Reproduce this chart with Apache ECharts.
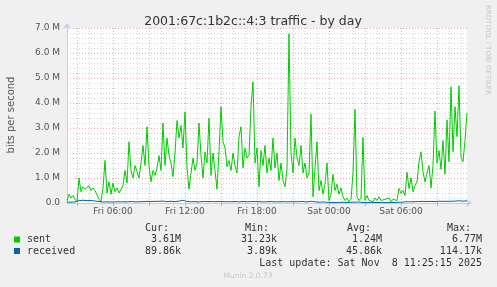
<!DOCTYPE html>
<html>
<head>
<meta charset="utf-8">
<script src="https://cdn.jsdelivr.net/npm/echarts@6/dist/echarts.min.js"></script>
<style>html,body{margin:0;padding:0;background:#f0f0f0;}#c{width:497px;height:287px;}</style>
</head>
<body>
<div id="c"></div>
<script>
// ---- data (10-minute samples, Fri 02:10 -> Sat 11:30) ----
const startMinute = 130;   // Fri 02:10
const stepMinutes = 10;
// sent, in Mbit/s
const sentM = [
 0.1,0.35,0.2,0.3,0.15,0.05,1.0,0.45,0.65,0.55,
 0.5,0.7,0.5,0.6,0.5,0.45,0.15,0.05,0.6,1.7,
 0.4,0.85,0.35,0.8,0.45,0.6,0.4,0.55,0.7,1.3,
 0.8,2.45,1.3,1.0,1.5,1.25,1.0,1.6,2.3,1.5,
 3.05,1.5,0.85,1.3,1.1,1.4,1.9,1.3,3.2,1.5,
 2.6,1.9,1.6,1.05,2.0,3.3,2.6,3.1,2.2,3.65,
 1.4,0.55,1.2,1.8,1.3,1.6,3.2,1.9,1.0,2.05,
 1.6,3.4,1.1,2.0,1.3,0.55,2.05,3.85,2.45,2.2,
 1.45,1.7,1.3,2.0,1.5,1.2,2.65,3.05,1.4,2.2,
 1.8,1.9,3.85,4.85,1.6,2.2,0.65,2.1,1.5,2.3,
 1.2,1.8,1.3,2.6,1.4,2.0,0.9,1.6,0.9,0.65,
 1.4,6.77,2.0,1.2,2.6,1.8,1.5,2.3,1.2,1.6,
 1.0,1.2,3.55,0.25,1.4,2.45,0.5,0.9,0.35,0.75,
 1.6,0.1,0.35,1.15,0.5,0.75,0.35,0.6,0.25,0.1,
 0.2,0.05,0.15,1.2,3.75,0.25,0.1,0.2,2.62,0.1,
 0.3,0.1,0.15,0.05,0.2,0.1,0.25,0.1,0.05,0.15,
 0.1,0.2,0.05,0.15,0.2,0.1,0.58,0.4,0.5,0.3,
 1.23,0.58,1.0,0.45,0.7,0.85,1.65,2.05,1.25,0.85,
 1.2,1.5,0.6,1.5,3.68,1.6,2.1,1.35,2.5,1.15,
 3.32,1.65,4.65,2.05,3.85,2.65,4.69,1.85,1.65,2.5,
 3.61
];
// received, in kbit/s
const receivedK = [
 30,45,35,60,40,50,
 95,105,110,100,95,90,100,85,80,75,60,45,
 40,50,45,55,40,50,45,55,50,45,50,55,45,50,60,50,45,55,50,60,55,50,65,
 70,60,55,65,80,70,60,75,65,55,60,70,65,55,60,75,95,110,80,60,
 55,50,60,55,50,45,55,60,50,55,45,60,55,50,70,60,50,55,65,50,45,55,50,60,55,45,50,60,55,50,45,55,50,60,65,55,50,45,55,50,
 55,60,50,45,55,50,60,55,50,45,50,55,60,50,45,55,50,60,55,45,60,70,55,50,45,35,30,40,25,30,20,25,30,20,35,25,20,30,25,20,
 25,30,20,35,60,40,25,20,30,15,20,25,15,20,30,20,15,25,20,15,25,20,15,20,25,30,40,35,45,50,
 55,50,60,55,50,60,55,65,50,60,55,65,60,55,65,70,60,65,75,70,65,70,80,75,70,90,85,75,70,90
];
const seriesNames = ['sent', 'received'];
const seriesColors = ['#00cc00', '#0066b3'];
const statHeaders = ['Cur:', 'Min:', 'Avg:', 'Max:'];
const sentStats = ['3.61M', '31.23k', '1.24M', '6.77M'];
const receivedStats = ['89.86k', '3.89k', '45.86k', '114.17k'];
const xTickLabels = ['Fri 06:00', 'Fri 12:00', 'Fri 18:00', 'Sat 00:00', 'Sat 06:00'];
const yTickLabels = ['0.0', '1.0 M', '2.0 M', '3.0 M', '4.0 M', '5.0 M', '6.0 M', '7.0 M'];
const titleText = '2001:67c:1b2c::4:3 traffic - by day';
const lastUpdate = 'Last update: Sat Nov  8 11:25:15 2025';

// ---- build ----
const minuteOf = [];
const categories = sentM.map((_, i) => {
  const m = startMinute + stepMinutes * i;
  minuteOf.push(m);
  const day = m >= 1440 ? 'Sat' : 'Fri';
  const mm = m % 1440;
  const h = String(Math.floor(mm / 60)).padStart(2, '0');
  const mi = String(mm % 60).padStart(2, '0');
  return day + ' ' + h + ':' + mi;
});
const sentData = sentM.map(v => v * 1e6);
const receivedData = receivedK.map(v => v * 1e3);

const mono = 'DejaVu Sans Mono';
const txtColor = '#333';
function t(x, y, text, align, extra) {
  return Object.assign({
    type: 'text', silent: true,
    style: { x: x, y: y, text: text, align: align || 'left', verticalAlign: 'middle',
      font: '10px "' + mono + '"', fill: txtColor }
  }, extra || {});
}
const valueRight = [181, 277, 382, 482];
const headerLeft = [145, 245, 347, 447];
const graphics = [];
statHeaders.forEach((h, i) => graphics.push(t(headerLeft[i], 228, h, 'left')));
sentStats.forEach((v, i) => graphics.push(t(valueRight[i], 239.5, v, 'right')));
receivedStats.forEach((v, i) => graphics.push(t(valueRight[i], 251, v, 'right')));
graphics.push(t(482, 263.5, lastUpdate, 'right'));
graphics.push({ type: 'text', silent: true, style: { x: 248, y: 276, text: 'Munin 2.0.73', align: 'center', verticalAlign: 'middle', font: '7.5px "DejaVu Sans"', fill: '#c8c8c8' } });
graphics.push({ type: 'text', silent: true, x: 488, y: 5, rotation: -Math.PI / 2,
  style: { x: 0, y: 0, text: 'RRDTOOL / TOBI OETIKER', align: 'left', verticalAlign: 'middle', font: '7px "DejaVu Sans"', fill: '#c8c8c8' } });
graphics.push({ type: 'text', silent: true, x: 11, y: 115, rotation: Math.PI / 2,
  style: { x: 0, y: 0, text: 'bits per second', align: 'center', verticalAlign: 'middle', font: '10px "DejaVu Sans"', fill: '#555' } });

const chart = echarts.init(document.getElementById('c'), null, { renderer: 'canvas' });
chart.setOption({
  animation: false,
  backgroundColor: '#f0f0f0',
  title: {
    text: titleText, left: 248, top: 10, textAlign: 'center',
    textStyle: { fontFamily: 'DejaVu Sans', fontSize: 12.5, fontWeight: 'normal', color: '#333' }
  },
  legend: {
    data: seriesNames, orient: 'vertical', left: 14, top: 234, padding: 0,
    icon: 'rect', itemWidth: 6, itemHeight: 6, itemGap: 0.5,
    textStyle: { fontFamily: mono, fontSize: 10, color: txtColor, lineHeight: 11, padding: [0, 0, 0, 2] },
    selectedMode: false
  },
  grid: { left: 67, right: 30, top: 28, bottom: 84, show: true, backgroundColor: '#ffffff', borderWidth: 0 },
  xAxis: [
    {
      type: 'category', data: categories, boundaryGap: false, position: 'bottom',
      axisLine: { show: true, lineStyle: { color: '#c8c8f0', width: 1 }, symbol: ['none', 'arrow'], symbolSize: [6, 6], symbolOffset: [0, 5] },
      axisTick: { show: false },
      axisLabel: {
        interval: (i, v) => xTickLabels.indexOf(v) >= 0,
        formatter: v => v, margin: 4,
        fontFamily: 'DejaVu Sans', fontSize: 9, color: '#555'
      },
      splitLine: {
        show: true,
        interval: (i) => minuteOf[i] % 60 === 0 && minuteOf[i] % 180 !== 0,
        lineStyle: { color: '#d6d6d6', width: 1, type: [1, 2] }
      }
    },
    {
      type: 'category', data: categories, boundaryGap: false, position: 'bottom',
      axisLine: { show: false },
      axisLabel: { show: false },
      axisTick: { show: true, interval: (i) => minuteOf[i] % 180 === 0, length: 3, inside: false, lineStyle: { color: '#f0a0a0' } },
      splitLine: {
        show: true,
        interval: (i) => minuteOf[i] % 180 === 0,
        lineStyle: { color: '#f0a8a8', width: 1, type: [1, 2] }
      }
    }
  ],
  yAxis: {
    type: 'value', min: 0, max: 7e6, interval: 1e6,
    axisLine: { show: true, lineStyle: { color: '#c8c8f0', width: 1 }, symbol: ['none', 'arrow'], symbolSize: [6, 6], symbolOffset: [0, 5] },
    axisTick: { show: false },
    axisLabel: {
      formatter: v => yTickLabels[Math.round(v / 1e6)],
      margin: 7, fontFamily: 'DejaVu Sans', fontSize: 9, color: '#555'
    },
    splitLine: { show: true, lineStyle: { color: '#f0a8a8', width: 1, type: [1, 2] } },
    minorTick: { show: false, splitNumber: 5 },
    minorSplitLine: { show: true, lineStyle: { color: '#d6d6d6', width: 1, type: [1, 2] } }
  },
  series: [
    { name: seriesNames[0], type: 'line', data: sentData, xAxisIndex: 0, showSymbol: false, symbol: 'none',
      lineStyle: { color: seriesColors[0], width: 1 }, itemStyle: { color: seriesColors[0] }, z: 3 },
    { name: seriesNames[1], type: 'line', data: receivedData, xAxisIndex: 0, showSymbol: false, symbol: 'none',
      lineStyle: { color: seriesColors[1], width: 1 }, itemStyle: { color: seriesColors[1] }, z: 4 }
  ],
  graphic: graphics
});
</script>
</body>
</html>
